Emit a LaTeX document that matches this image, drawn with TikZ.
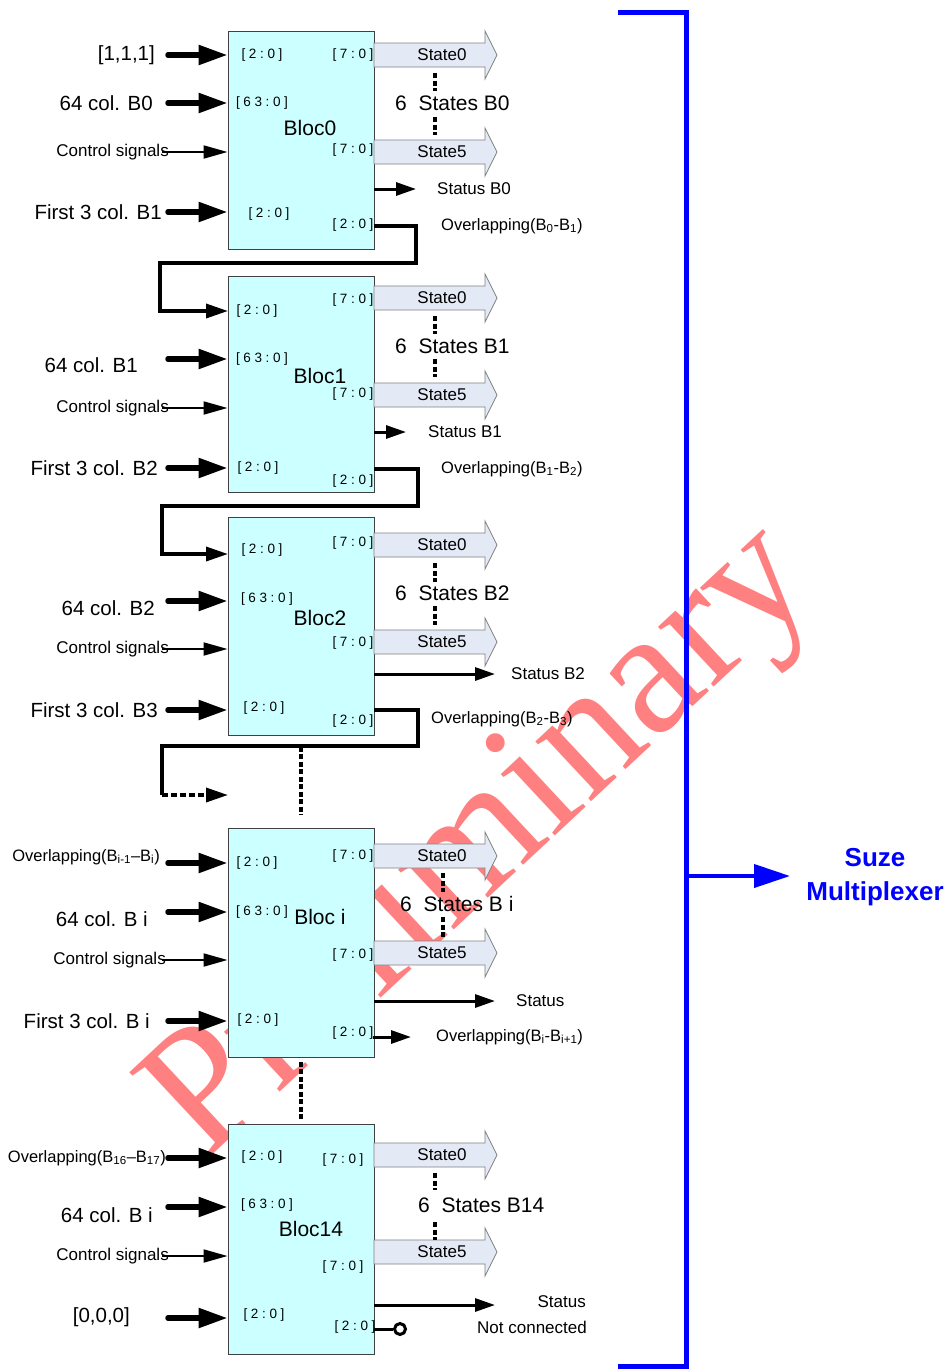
\documentclass[tikz,border=0pt]{standalone}
\usepackage{fontspec}
\setmainfont{Liberation Sans}
\newfontfamily\wmfont{Liberation Serif}
\newfontfamily\portfont[LetterSpace=27]{Liberation Sans}
\usetikzlibrary{arrows.meta}
\definecolor{blkfill}{HTML}{CCFFFF}
\definecolor{blkdraw}{HTML}{404040}
\definecolor{stfill}{HTML}{E3EAF6}
\definecolor{stdraw}{HTML}{808080}
\definecolor{muxblue}{HTML}{0000FF}
\definecolor{wmred}{HTML}{FF8080}
\newcommand\stArrow[3]{%
  \draw[stbox] (374,#2-12) -- (485,#2-12) -- (485,#2-24) -- (497,#2) -- (485,#2+24) -- (485,#2+12) -- (374,#2+12) -- cycle;
  \node[stlbl] (#1) at (442,#2) {#3};}
\begin{document}
\begin{tikzpicture}[x=1pt,y=-1pt,
 blk/.style={draw=blkdraw, fill=blkfill, line width=1pt, minimum width=146pt, inner sep=0},
 big/.style={font=\fontsize{20.5}{23}\selectfont, inner sep=0},
 ctl/.style={font=\fontsize{17}{19}\selectfont, inner sep=0},
 port/.style={font=\portfont\fontsize{13.5}{15}\selectfont, inner sep=0},
 bname/.style={font=\fontsize{21}{23}\selectfont, inner sep=0},
 stlbl/.style={font=\fontsize{17}{19}\selectfont, inner sep=0},
 six/.style={font=\fontsize{21}{23}\selectfont, inner sep=0, anchor=west},
 stat/.style={font=\fontsize{17}{19}\selectfont, inner sep=0, anchor=west},
 ovl/.style={font=\fontsize{16.5}{18}\selectfont, inner sep=0, anchor=west},
 stbox/.style={draw=stdraw, fill=stfill, line width=0.8pt},
 thickarr/.style={line width=5.5pt, line cap=round, -{Triangle[length=29pt,width=19pt]}},
 thinarr/.style={line width=2pt, -{Triangle[length=24pt,width=13pt]}},
 medarr/.style={line width=3pt, -{Triangle[length=20pt,width=13pt]}},
 conn/.style={line width=3.5pt},
 connarr/.style={line width=3.5pt, -{Triangle[length=22pt,width=14pt]}},
 dots/.style={line width=4pt, dash pattern=on 5pt off 2.5pt},
 wmtext/.style={font=\wmfont\fontsize{178}{178}\selectfont, text=wmred, inner sep=0, anchor=base west, rotate=43},
 muxlbl/.style={font=\bfseries\fontsize{26}{34}\selectfont, text=muxblue, align=center, inner sep=0},
]
\useasboundingbox (0,0) rectangle (950,1369);
% watermark
\node[wmtext] (wm) at (205,1162) {Preliminary};

% ================= Block 0
\node[blk, minimum height=218pt] (b0) at (301,140) {};
\node[bname] (b0n) at (310,128) {Bloc0};
\node[port] (b0p1) at (262,55) {[2:0]};
\node[port] (b0p2) at (353,55) {[7:0]};
\node[port] (b0p3) at (262,103) {[63:0]};
\node[port] (b0p4) at (353,150) {[7:0]};
\node[port] (b0p5) at (269,214) {[2:0]};
\node[port] (b0p6) at (353,225) {[2:0]};
\node[big, anchor=east] (b0t1) at (155,55) {[1,1,1]};
\node[big, anchor=east] (b0t2) at (153,103) {64 col. B0};
\node[ctl, anchor=east] (b0t3) at (169,152) {Control signals};
\node[big, anchor=east] (b0t4) at (162,212) {First 3 col. B1};
\coordinate (b0i1) at (168,55);
\coordinate (b0i2) at (168,103);
\coordinate (b0i3) at (162,152);
\coordinate (b0i4) at (168,212);
\draw[thickarr] (b0i1) -- (b0i1 -| b0.west);
\draw[thickarr] (b0i2) -- (b0i2 -| b0.west);
\draw[thinarr] (b0i3) -- (b0i3 -| b0.west);
\draw[thickarr] (b0i4) -- (b0i4 -| b0.west);
\stArrow{b0s0}{55}{State0}
\stArrow{b0s5}{152}{State5}
\draw[dots] (435,73) -- (435,91);
\node[six] (b0six) at (395,103) {6\ \ States B0};
\draw[dots] (435,117) -- (435,135);
\coordinate (b0st) at (374,189);
\coordinate (b0ste) at (416,189);
\draw[medarr] (b0st) -- (b0ste);
\node[stat] (b0stt) at (437,189) {Status B0};
\node[ovl] (b0ov) at (441,226) {Overlapping(B\textsubscript{0}-B\textsubscript{1})};
\coordinate (c01a) at (374,226);
\coordinate (c01b) at (228,311);
\draw[connarr] (c01a) -- (416,226) |- (160,263) |- (c01b);

% ================= Block 1
\node[blk, minimum height=216pt] (b1) at (301,384) {};
\node[bname] (b1n) at (320,376) {Bloc1};
\node[port] (b1p1) at (353,300) {[7:0]};
\node[port] (b1p2) at (257,311) {[2:0]};
\node[port] (b1p3) at (262,359) {[63:0]};
\node[port] (b1p4) at (353,394) {[7:0]};
\node[port] (b1p5) at (258,468) {[2:0]};
\node[port] (b1p6) at (353,481) {[2:0]};
\node[big, anchor=east] (b1t2) at (138,365) {64 col. B1};
\node[ctl, anchor=east] (b1t3) at (169,408) {Control signals};
\node[big, anchor=east] (b1t4) at (158,468) {First 3 col. B2};
\coordinate (b1i2) at (168,359);
\coordinate (b1i3) at (162,408);
\coordinate (b1i4) at (168,468);
\draw[thickarr] (b1i2) -- (b1i2 -| b1.west);
\draw[thinarr] (b1i3) -- (b1i3 -| b1.west);
\draw[thickarr] (b1i4) -- (b1i4 -| b1.west);
\stArrow{b1s0}{298}{State0}
\stArrow{b1s5}{395}{State5}
\draw[dots] (435,316) -- (435,334);
\node[six] (b1six) at (395,346) {6\ \ States B1};
\draw[dots] (435,359) -- (435,377);
\coordinate (b1st) at (374,432);
\coordinate (b1ste) at (406,432);
\draw[medarr] (b1st) -- (b1ste);
\node[stat] (b1stt) at (428,432) {Status B1};
\node[ovl] (b1ov) at (441,469) {Overlapping(B\textsubscript{1}-B\textsubscript{2})};
\coordinate (c12a) at (374,469);
\coordinate (c12b) at (228,554);
\draw[connarr] (c12a) -- (418,469) |- (162,506) |- (c12b);

% ================= Block 2
\node[blk, minimum height=218pt] (b2) at (301,626) {};
\node[bname] (b2n) at (320,618) {Bloc2};
\node[port] (b2p1) at (353,543) {[7:0]};
\node[port] (b2p2) at (262,550) {[2:0]};
\node[port] (b2p3) at (267,599) {[63:0]};
\node[port] (b2p4) at (353,643) {[7:0]};
\node[port] (b2p5) at (264,708) {[2:0]};
\node[port] (b2p6) at (353,721) {[2:0]};
\node[big, anchor=east] (b2t2) at (155,608) {64 col. B2};
\node[ctl, anchor=east] (b2t3) at (169,649) {Control signals};
\node[big, anchor=east] (b2t4) at (158,710) {First 3 col. B3};
\coordinate (b2i2) at (168,601);
\coordinate (b2i3) at (162,649);
\coordinate (b2i4) at (168,710);
\draw[thickarr] (b2i2) -- (b2i2 -| b2.west);
\draw[thinarr] (b2i3) -- (b2i3 -| b2.west);
\draw[thickarr] (b2i4) -- (b2i4 -| b2.west);
\stArrow{b2s0}{545}{State0}
\stArrow{b2s5}{642}{State5}
\draw[dots] (435,563) -- (435,582);
\node[six] (b2six) at (395,593) {6\ \ States B2};
\draw[dots] (435,606) -- (435,625);
\coordinate (b2st) at (374,674);
\coordinate (b2ste) at (495,674);
\draw[medarr] (b2st) -- (b2ste);
\node[stat] (b2stt) at (511,674) {Status B2};
\node[ovl] (b2ov) at (431,719) {Overlapping(B\textsubscript{2}-B\textsubscript{3})};
\coordinate (c23a) at (374,710);
\coordinate (c23m) at (162,795);
\coordinate (c23b) at (228,795);
\draw[conn] (c23a) -- (418,710) |- (162,746) -- (c23m);
\draw[connarr, dash pattern=on 6pt off 3pt] (c23m) -- (c23b);
\draw[dots] (b2.south) ++(0,11) -- (301,815);

% ================= Block i
\node[blk, minimum height=229pt] (bi) at (301,942.5) {};
\node[bname] (bin) at (320,917) {Bloc i};
\node[port] (bip1) at (353,856) {[7:0]};
\node[port] (bip2) at (257,863) {[2:0]};
\node[port] (bip3) at (262,912) {[63:0]};
\node[port] (bip4) at (353,955) {[7:0]};
\node[port] (bip5) at (258,1020) {[2:0]};
\node[port] (bip6) at (353,1033) {[2:0]};
\node[ovl, anchor=east] (bit1) at (160,857) {Overlapping(B\textsubscript{i-1}–B\textsubscript{i})};
\node[big, anchor=east] (bit2) at (148,919) {64 col. B i};
\node[ctl, anchor=east] (bit3) at (166,960) {Control signals};
\node[big, anchor=east] (bit4) at (150,1021) {First 3 col. B i};
\coordinate (bii1) at (168,863);
\coordinate (bii2) at (168,912);
\coordinate (bii3) at (162,960);
\coordinate (bii4) at (168,1021);
\draw[thickarr] (bii1) -- (bii1 -| bi.west);
\draw[thickarr] (bii2) -- (bii2 -| bi.west);
\draw[thinarr] (bii3) -- (bii3 -| bi.west);
\draw[thickarr] (bii4) -- (bii4 -| bi.west);
\stArrow{bis0}{856}{State0}
\stArrow{bis5}{953}{State5}
\draw[dots] (443,873) -- (443,892);
\node[six] (bisix) at (400,904) {6\ \ States B i};
\draw[dots] (443,917) -- (443,937);
\coordinate (bist) at (374,1001);
\coordinate (biste) at (495,1001);
\draw[medarr] (bist) -- (biste);
\node[stat] (bistt) at (516,1001) {Status};
\coordinate (bio) at (373,1037);
\coordinate (bioe) at (411,1037);
\draw[medarr] (bio) -- (bioe);
\node[ovl] (biov) at (436,1037) {Overlapping(B\textsubscript{i}-B\textsubscript{i+1})};
\draw[dots] (bi.south) ++(0,4) -- (301,1120);

% ================= Block 14
\node[blk, minimum height=230pt] (b14) at (301,1239) {};
\node[bname] (b14n) at (311,1229) {Bloc14};
\node[port] (b14p1) at (262,1157) {[2:0]};
\node[port] (b14p2) at (343,1160) {[7:0]};
\node[port] (b14p3) at (267,1205) {[63:0]};
\node[port] (b14p4) at (343,1267) {[7:0]};
\node[port] (b14p5) at (264,1315) {[2:0]};
\node[port] (b14p6) at (355,1327) {[2:0]};
\node[ovl, anchor=east] (b14t1) at (166,1158) {Overlapping(B\textsubscript{16}–B\textsubscript{17})};
\node[big, anchor=east] (b14t2) at (153,1215) {64 col. B i};
\node[ctl, anchor=east] (b14t3) at (169,1256) {Control signals};
\node[big, anchor=east] (b14t4) at (130,1317) {[0,0,0]};
\coordinate (b14i1) at (168,1158);
\coordinate (b14i2) at (168,1207);
\coordinate (b14i3) at (162,1256);
\coordinate (b14i4) at (168,1318);
\draw[thickarr] (b14i1) -- (b14i1 -| b14.west);
\draw[thickarr] (b14i2) -- (b14i2 -| b14.west);
\draw[thinarr] (b14i3) -- (b14i3 -| b14.west);
\draw[thickarr] (b14i4) -- (b14i4 -| b14.west);
\stArrow{b14s0}{1155}{State0}
\stArrow{b14s5}{1252}{State5}
\draw[dots] (435,1173) -- (435,1190);
\node[six] (b14six) at (418,1205) {6\ \ States B14};
\draw[dots] (435,1222) -- (435,1240);
\coordinate (b14st) at (374,1305);
\coordinate (b14ste) at (495,1305);
\draw[medarr] (b14st) -- (b14ste);
\node[stat, anchor=east] (b14stt) at (586,1302) {Status};
\node[stat] (b14nc) at (477,1327) {Not connected};
\coordinate (b14o) at (374,1329);
\node[circle, draw=black, fill=white, line width=3pt, minimum size=11pt, inner sep=0] (b14oc) at (400,1329) {};
\draw[line width=3pt] (b14o) -- (b14oc.west);

% ================= Multiplexer bus
\draw[muxblue, line width=5pt] (618,12) -- (686,12) -- (686,1366) -- (618,1366);
\coordinate (bus) at (686,876);
\coordinate (buse) at (790,876);
\draw[muxblue, line width=4pt, -{Triangle[length=36pt,width=23pt]}] (bus) -- (buse);
\node[muxlbl] (mux) at (875,877) {Suze\\Multiplexer};
\end{tikzpicture}
\end{document}
